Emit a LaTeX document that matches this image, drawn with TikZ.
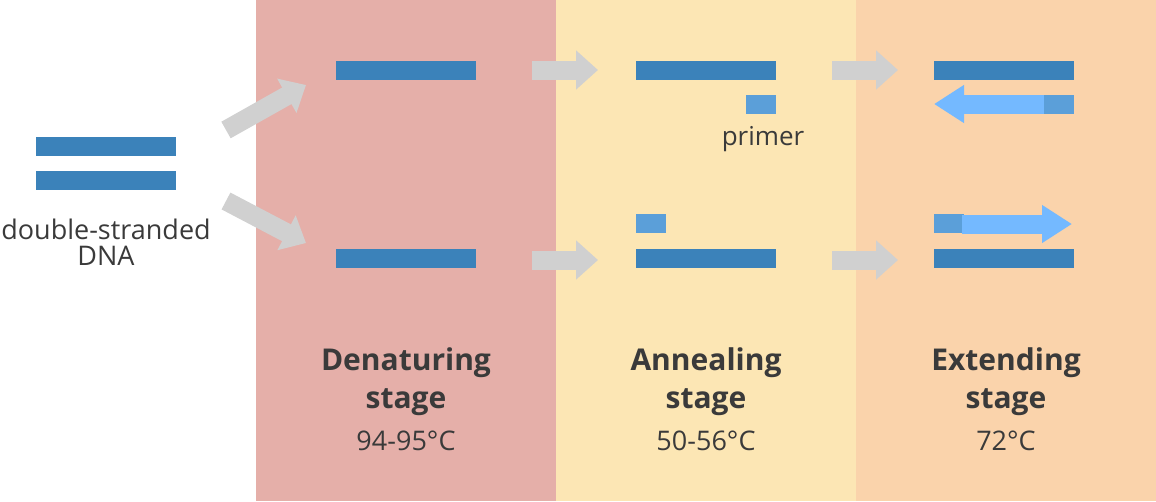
\documentclass[tikz,border=0pt]{standalone}
\usepackage{fontspec}
\setmainfont{Open Sans}
\usetikzlibrary{arrows.meta}
\definecolor{dna}{HTML}{3B82BA}
\definecolor{prim}{HTML}{5B9FD9}
\definecolor{ext}{HTML}{74B9FF}
\definecolor{gr}{HTML}{D0D0D0}
\definecolor{txt}{HTML}{3A3A3A}
\definecolor{pred}{HTML}{E5AFA9}
\definecolor{pyel}{HTML}{FCE6B4}
\definecolor{pora}{HTML}{FAD3AB}
\begin{document}
\begin{tikzpicture}[x=1pt,y=-1pt,
  strand/.style={fill=dna},
  primer/.style={fill=prim},
  garrow/.style={draw=gr,line width=19pt,-{Triangle[length=22pt,width=38pt]}},
  earrow/.style={draw=ext,line width=19pt,-{Triangle[length=30pt,width=36pt]}},
  title/.style={font=\bfseries\fontsize{30}{38}\selectfont,text=txt,align=center},
  temp/.style={font=\fontsize{27}{30}\selectfont,text=txt},
  lab/.style={font=\fontsize{27}{30}\selectfont,text=txt,align=center}]
\useasboundingbox (0,0) rectangle (1156,501);
\fill[pred] (256,0) rectangle (556,501);
\fill[pyel] (556,0) rectangle (856,501);
\fill[pora] (856,0) rectangle (1156,501);
% left DNA
\fill[strand] (36,137) rectangle (176,156);
\fill[strand] (36,171) rectangle (176,190);
\node[lab] (dslab) at (106,242) {double-stranded\\[-4pt]DNA};
% denaturing
\fill[strand] (336,61) rectangle (476,80);
\fill[strand] (336,249) rectangle (476,268);
% annealing
\fill[strand] (636,61) rectangle (776,80);
\fill[primer] (746,95) rectangle (776,114);
\node[lab,font=\fontsize{26}{30}\selectfont] (pl) at (763,139) {primer};
\fill[primer] (636,214) rectangle (666,233);
\fill[strand] (636,249) rectangle (776,268);
% extending
\fill[strand] (934,61) rectangle (1074,80);
\coordinate (e1s) at (1046,104); \coordinate (e1e) at (934,104);
\draw[earrow] (e1s) -- (e1e);
\fill[primer] (1044,95) rectangle (1074,114);
\fill[primer] (934,214) rectangle (964,233);
\coordinate (e2s) at (962,224); \coordinate (e2e) at (1072,224);
\draw[earrow] (e2s) -- (e2e);
\fill[strand] (934,249) rectangle (1074,268);
% grey arrows
\coordinate (a1) at (226,130); \coordinate (a1e) at (306,85);
\coordinate (a2) at (226,201); \coordinate (a2e) at (306,243);
\draw[garrow] (a1) -- (a1e);
\draw[garrow] (a2) -- (a2e);
\foreach \x/\n in {532/b,832/c}{
  \coordinate (\n1) at (\x,70); \coordinate (\n1e) at (\x+66,70);
  \coordinate (\n2) at (\x,260); \coordinate (\n2e) at (\x+66,260);
  \draw[garrow] (\n1) -- (\n1e);
  \draw[garrow] (\n2) -- (\n2e);
}
% labels
\node[title] (t1) at (406,382) {Denaturing\\stage};
\node[title] (t2) at (706,382) {Annealing\\stage};
\node[title] (t3) at (1006,382) {Extending\\stage};
\node[temp] (p1) at (406,441) {94-95°C};
\node[temp] (p2) at (706,441) {50-56°C};
\node[temp] (p3) at (1006,441) {72°C};
\end{tikzpicture}
\end{document}
